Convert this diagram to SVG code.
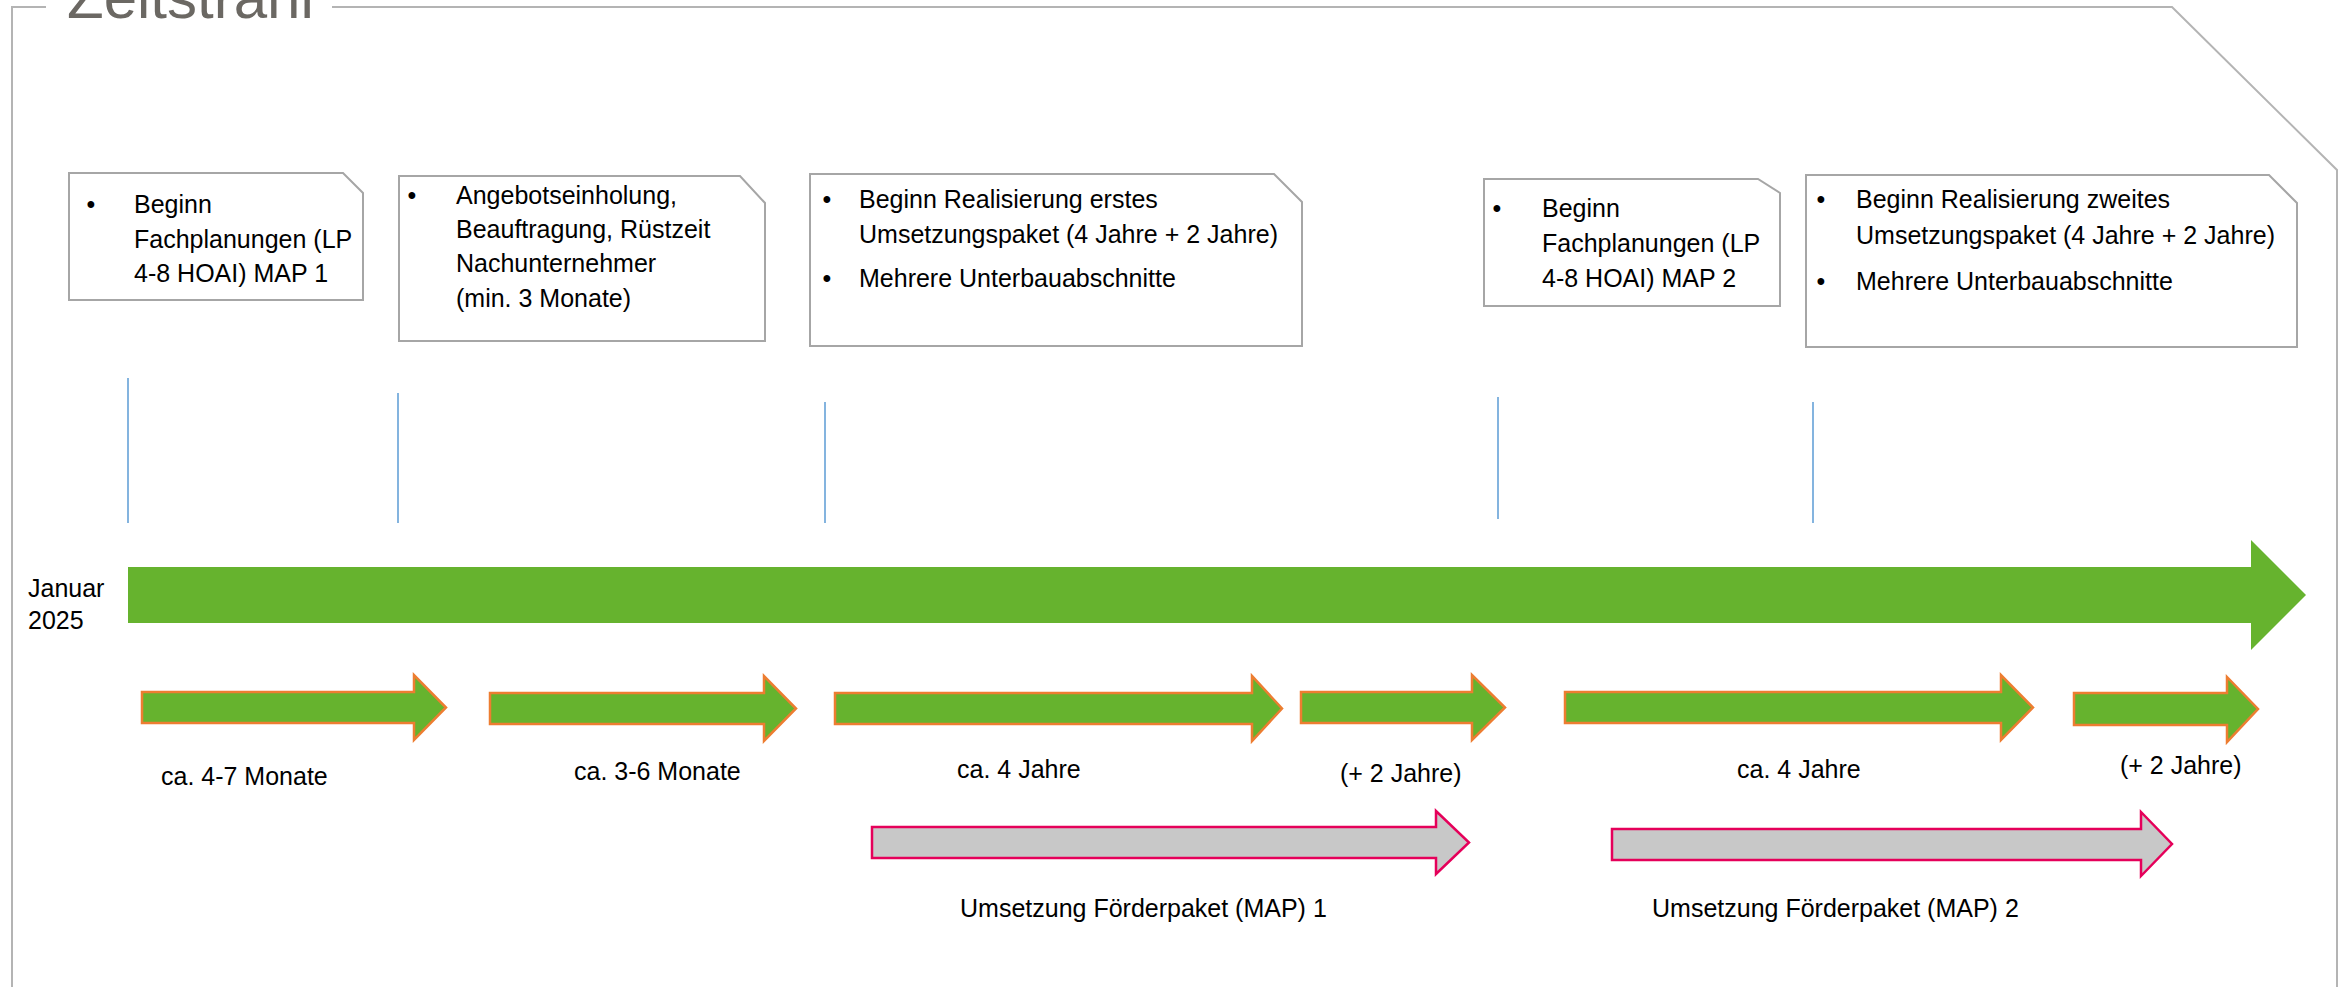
<svg xmlns="http://www.w3.org/2000/svg" width="2340" height="987" viewBox="0 0 2340 987">
<style>
.frame{fill:none;stroke:#B4B4B4;stroke-width:2}
.box{fill:#FFFFFF;stroke:#A6A6A6;stroke-width:2}
.t{font-family:"Liberation Sans",Arial,sans-serif;font-size:25px;fill:#000000}
.title{font-family:"Liberation Sans",Arial,sans-serif;font-size:60px;fill:#6B6863}
.conn{stroke:#5B9BD5;stroke-width:1.5;fill:none}
.big{fill:#66B32E;stroke:none}
.ga{fill:#66B32E;stroke:#ED7D31;stroke-width:2.5;stroke-linejoin:miter}
.pa{fill:#C8C8C8;stroke:#E5005A;stroke-width:2.5;stroke-linejoin:miter}
</style>
<rect width="2340" height="987" fill="#FFFFFF"/>
<g id="frame">
<polyline class="frame" points="46,7 12,7 12,987"/>
<polyline class="frame" points="332,7 2172,7 2337,170 2337,987"/>
<text class="title" x="67" y="18">Zeitstrahl</text>
</g>
<g id="connectors">
<line class="conn" x1="128" y1="378" x2="128" y2="523"/>
<line class="conn" x1="398" y1="393" x2="398" y2="523"/>
<line class="conn" x1="825" y1="402" x2="825" y2="523"/>
<line class="conn" x1="1498" y1="397" x2="1498" y2="519"/>
<line class="conn" x1="1813" y1="402" x2="1813" y2="523"/>
</g>
<g id="box1">
<polygon class="box" points="69,173 343,173 363,193 363,300 69,300"/>
<text class="t" x="91" y="213" text-anchor="middle">•</text>
<text class="t" x="134" y="213">Beginn</text>
<text class="t" x="134" y="248">Fachplanungen (LP</text>
<text class="t" x="134" y="282">4-8 HOAI) MAP 1</text>
</g>
<g id="box2">
<polygon class="box" points="399,176 740,176 765,203 765,341 399,341"/>
<text class="t" x="412" y="204" text-anchor="middle">•</text>
<text class="t" x="456" y="204">Angebotseinholung,</text>
<text class="t" x="456" y="238">Beauftragung, Rüstzeit</text>
<text class="t" x="456" y="272">Nachunternehmer</text>
<text class="t" x="456" y="307">(min. 3 Monate)</text>
</g>
<g id="box3">
<polygon class="box" points="810,174 1274,174 1302,202 1302,346 810,346"/>
<text class="t" x="827" y="208" text-anchor="middle">•</text>
<text class="t" x="859" y="208">Beginn Realisierung erstes</text>
<text class="t" x="859" y="243">Umsetzungspaket (4 Jahre + 2 Jahre)</text>
<text class="t" x="827" y="287" text-anchor="middle">•</text>
<text class="t" x="859" y="287">Mehrere Unterbauabschnitte</text>
</g>
<g id="box4">
<polygon class="box" points="1484,179 1758,179 1780,193 1780,306 1484,306"/>
<text class="t" x="1497" y="217" text-anchor="middle">•</text>
<text class="t" x="1542" y="217">Beginn</text>
<text class="t" x="1542" y="252">Fachplanungen (LP</text>
<text class="t" x="1542" y="287">4-8 HOAI) MAP 2</text>
</g>
<g id="box5">
<polygon class="box" points="1806,175 2269,175 2297,203 2297,347 1806,347"/>
<text class="t" x="1821" y="208" text-anchor="middle">•</text>
<text class="t" x="1856" y="208">Beginn Realisierung zweites</text>
<text class="t" x="1856" y="244">Umsetzungspaket (4 Jahre + 2 Jahre)</text>
<text class="t" x="1821" y="290" text-anchor="middle">•</text>
<text class="t" x="1856" y="290">Mehrere Unterbauabschnitte</text>
</g>
<g id="timeline">
<polygon class="big" points="128,567 2251,567 2251,540 2306,595 2251,650 2251,623 128,623"/>
<text class="t" x="28" y="597">Januar</text>
<text class="t" x="28" y="629">2025</text>
</g>
<g id="phase1">
<polygon class="ga" points="142,692 414,692 414,675 446,707.5 414,740 414,723 142,723"/>
<text class="t" x="161" y="785">ca. 4-7 Monate</text>
</g>
<g id="phase2">
<polygon class="ga" points="490,693 764,693 764,676 796,708.5 764,741 764,724 490,724"/>
<text class="t" x="574" y="780">ca. 3-6 Monate</text>
</g>
<g id="phase3">
<polygon class="ga" points="835,693 1252,693 1252,676 1282,708.5 1252,741 1252,724 835,724"/>
<text class="t" x="957" y="778">ca. 4 Jahre</text>
</g>
<g id="phase4">
<polygon class="ga" points="1301,692 1472,692 1472,675 1505,707.5 1472,740 1472,723 1301,723"/>
<text class="t" x="1340" y="782">(+ 2 Jahre)</text>
</g>
<g id="phase5">
<polygon class="ga" points="1565,692 2001,692 2001,675 2033,707.5 2001,740 2001,723 1565,723"/>
<text class="t" x="1737" y="778">ca. 4 Jahre</text>
</g>
<g id="phase6">
<polygon class="ga" points="2074,693 2227,693 2227,677 2258,709 2227,742 2227,725 2074,725"/>
<text class="t" x="2120" y="774">(+ 2 Jahre)</text>
</g>
<g id="map1">
<polygon class="pa" points="872,827 1436,827 1436,811 1469,842.5 1436,874 1436,858 872,858"/>
<text class="t" x="960" y="917">Umsetzung Förderpaket (MAP) 1</text>
</g>
<g id="map2">
<polygon class="pa" points="1612,829 2141,829 2141,812 2172,844 2141,876 2141,860 1612,860"/>
<text class="t" x="1652" y="917">Umsetzung Förderpaket (MAP) 2</text>
</g>
</svg>
